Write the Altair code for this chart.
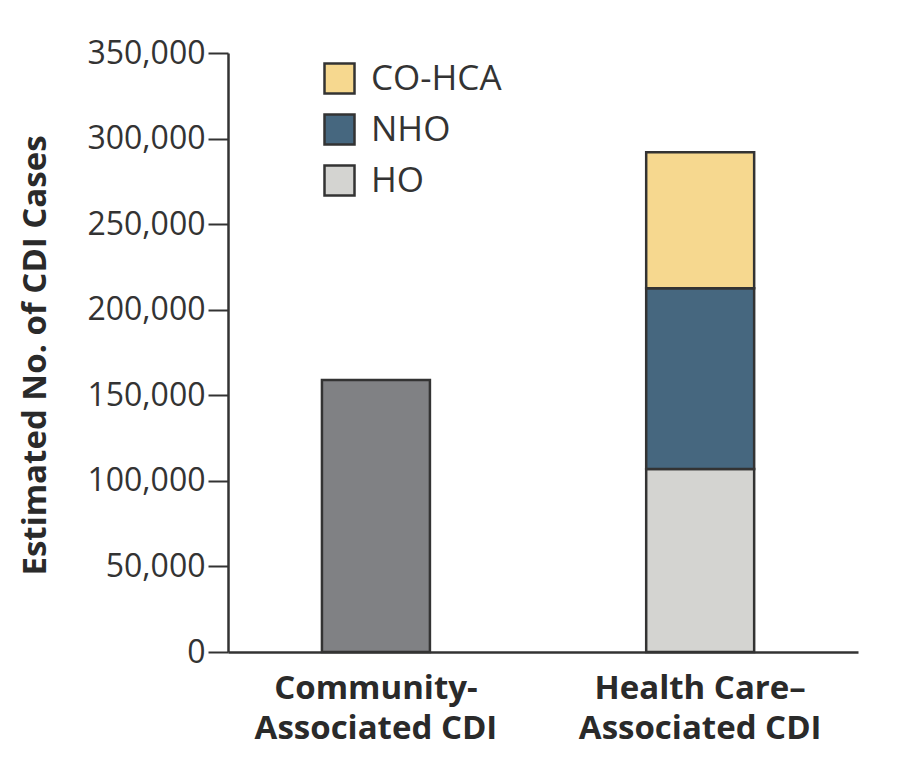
import altair as alt
import pandas as pd

# Data
categories = ["Community-|Associated CDI", "Health Care–|Associated CDI"]
community_value = [159000]
hca_components = ["HO", "NHO", "CO-HCA"]          # bottom -> top
hca_values = [107000, 105500, 79500]
legend_order = ["CO-HCA", "NHO", "HO"]
component_colors = ["#f6d88f", "#46677f", "#d4d4d1"]  # in legend_order
community_color = "#808184"
y_ticks = [0, 50000, 100000, 150000, 200000, 250000, 300000, 350000]

df_comm = pd.DataFrame({"cat": [categories[0]], "value": community_value})
df_hca = pd.DataFrame({
    "cat": [categories[1]] * len(hca_components),
    "component": hca_components,
    "value": hca_values,
    "order": list(range(len(hca_components))),
})

FONT = "Open Sans"
INK = "#333333"

x_enc = alt.X(
    "cat:N",
    sort=categories,
    scale=alt.Scale(domain=categories, paddingInner=0.667, paddingOuter=0.305, align=0.475),
    axis=alt.Axis(
        title=None,
        labelAngle=0,
        labelExpr="split(datum.label, '|')",
        labelFont=FONT,
        labelFontWeight="bold",
        labelFontSize=33,
        labelColor="#2a2a2a",
        labelLineHeight=40,
        labelPadding=20,
        labelLimit=400,
        ticks=False,
        domainColor=INK,
        domainWidth=2.5,
    ),
)

y_scale = alt.Scale(domain=[0, 350000], nice=False)
y_axis = alt.Axis(
    title="Estimated No. of CDI Cases",
    titleFont=FONT,
    titleFontWeight="bold",
    titleFontSize=33,
    titleColor="#2a2a2a",
    titleAngle=-90,
    titleAlign="center",
    titleBaseline="middle",
    titleX=-193,
    titleY=302,
    titleLimit=700,
    values=y_ticks,
    format=",d",
    labelFont=FONT,
    labelFontSize=32,
    labelColor=INK,
    labelPadding=3,
    tickSize=20,
    tickWidth=2,
    tickColor=INK,
    domainColor=INK,
    domainWidth=2.5,
    grid=False,
)

comm = alt.Chart(df_comm).mark_bar(
    color=community_color, stroke=INK, strokeWidth=2.5
).encode(
    x=x_enc,
    y=alt.Y("value:Q", scale=y_scale, axis=y_axis),
)

hca = alt.Chart(df_hca).mark_bar(stroke=INK, strokeWidth=2.5).encode(
    x=x_enc,
    y=alt.Y("value:Q", stack="zero", scale=y_scale, axis=y_axis),
    color=alt.Color(
        "component:N",
        scale=alt.Scale(domain=legend_order, range=component_colors),
        legend=alt.Legend(
            title=None,
            orient="none",
            legendX=94,
            legendY=8,
            symbolType="square",
            symbolSize=900,
            symbolStrokeColor=INK,
            symbolStrokeWidth=2.5,
            labelFont=FONT,
            labelFontSize=35,
            labelColor=INK,
            labelOffset=14,
            labelLimit=300,
            rowPadding=10,
        ),
    ),
    order=alt.Order("order:Q"),
)

chart = (
    alt.layer(comm, hca)
    .properties(
        width=630,
        height=599,
        autosize=alt.AutoSizeParams(type="none"),
        padding={"left": 220, "top": 45, "right": 37, "bottom": 111},
    )
    .configure(background="white")
    .configure_view(stroke=None, strokeWidth=0)
)

chart.save("out.html", embed_options={"renderer": "svg", "actions": False})
